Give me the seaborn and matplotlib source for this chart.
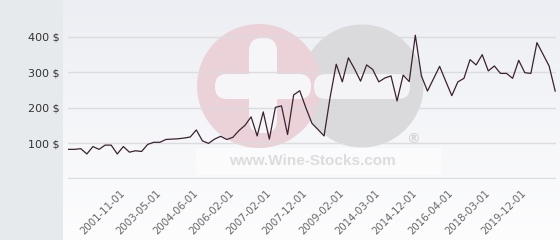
import numpy as np
import matplotlib
matplotlib.use("Agg")
import matplotlib.pyplot as plt
from matplotlib.patches import Circle, FancyBboxPatch, Rectangle
import seaborn as sns

# ---- data ----
prices = [82, 82, 84, 69, 90, 82, 94, 94, 69, 90,
          74, 78, 76, 96, 102, 102, 110, 111, 112, 114,
          117, 137, 106, 99, 111, 119, 110, 116, 135, 150,
          174, 120, 188, 111, 201, 205, 124, 236, 248, 200,
          156, 138, 120, 230, 323, 273, 341, 310, 275, 321,
          308, 273, 284, 290, 219, 292, 274, 405, 290, 247,
          282, 317, 275, 234, 273, 283, 336, 321, 350, 304,
          318, 297, 297, 283, 334, 299, 297, 384, 351, 318,
          247]
tick_labels = ["2001-11-01", "2003-05-01", "2004-06-01", "2006-02-01",
               "2007-02-01", "2007-12-01", "2009-02-01", "2014-03-01",
               "2014-12-01", "2016-04-01", "2018-03-01", "2019-12-01"]
y_ticks = [0, 100, 200, 300, 400]
y_tick_labels = ["", "100 $", "200 $", "300 $", "400 $"]
first_tick, tick_step = 9, 6

W, H = 560, 240
fig = plt.figure(figsize=(W / 100, H / 100), dpi=100)
fig.patch.set_facecolor("#e7eaed")

# background gradient of plot area
bg = fig.add_axes([63 / W, 0, 1 - 63 / W, 1], zorder=0)
grad = np.linspace(0, 1, 256).reshape(-1, 1)
top = np.array([236, 238, 243]) / 255
bot = np.array([253, 253, 254]) / 255
img = top[None, None, :] * (1 - grad[:, :, None]) + bot[None, None, :] * grad[:, :, None]
bg.imshow(img, aspect="auto", extent=[0, 1, 0, 1], origin="upper")
bg.set_axis_off()

# watermark in pixel coordinates
wm = fig.add_axes([0, 0, 1, 1], zorder=0.5)
wm.set_xlim(0, W)
wm.set_ylim(H, 0)
wm.set_axis_off()
wm.patch.set_alpha(0)
wm.add_patch(Circle((362, 86), 61.5, color="#dadadd", lw=0))
wm.add_patch(Circle((259, 86), 62, color="#ebd2d9", lw=0))
wm.add_patch(FancyBboxPatch((249, 38), 28, 95, boxstyle="round,pad=0,rounding_size=13",
                            color="#f6f6f8", lw=0))
wm.add_patch(FancyBboxPatch((215, 74), 96, 25, boxstyle="round,pad=0,rounding_size=12",
                            color="#f6f6f8", lw=0))
wm.add_patch(FancyBboxPatch((314, 74), 96, 25, boxstyle="round,pad=0,rounding_size=12",
                            color="#f4f4f6", lw=0))
wm.add_patch(Rectangle((196, 148), 245, 27, color="white", alpha=0.55, lw=0))
wm.text(312, 161, "www.Wine-Stocks.com", ha="center", va="center",
        fontsize=11, fontweight="bold", color="#dcdcdf", family="Liberation Sans")
wm.text(413, 139, "®", ha="center", va="center", fontsize=10,
        fontweight="bold", color="#d2d2d5", family="DejaVu Sans")

# main chart
ax = fig.add_axes([68 / W, (H - 179.4) / H, (555.5 - 68) / W, 179.4 / H], zorder=1)
ax.patch.set_alpha(0)
x = np.arange(len(prices))
sns.lineplot(x=x, y=prices, ax=ax, color="#3b2230", linewidth=0.9)
ax.set_xlim(-0.1, len(prices) - 1 + 0.05)
ax.set_ylim(-3, 504.7)
ax.set_yticks(y_ticks)
ax.set_yticklabels(y_tick_labels)
ax.yaxis.grid(True, color="#dcdcdf", linewidth=1)
ax.set_axisbelow(True)
xt = np.arange(first_tick, len(prices), tick_step)[:len(tick_labels)]
ax.set_xticks(xt)
ax.set_xticklabels(tick_labels, rotation=45, ha="right", va="center",
                   rotation_mode="anchor")
ax.tick_params(axis="x", length=0, pad=9, labelsize=7.3, labelcolor="#666666")
ax.tick_params(axis="y", length=0, pad=6, labelsize=8, labelcolor="#333333")
for s in ax.spines.values():
    s.set_visible(False)
ax.set_xlabel("")
ax.set_ylabel("")

fig.savefig("out.png", dpi=100)
